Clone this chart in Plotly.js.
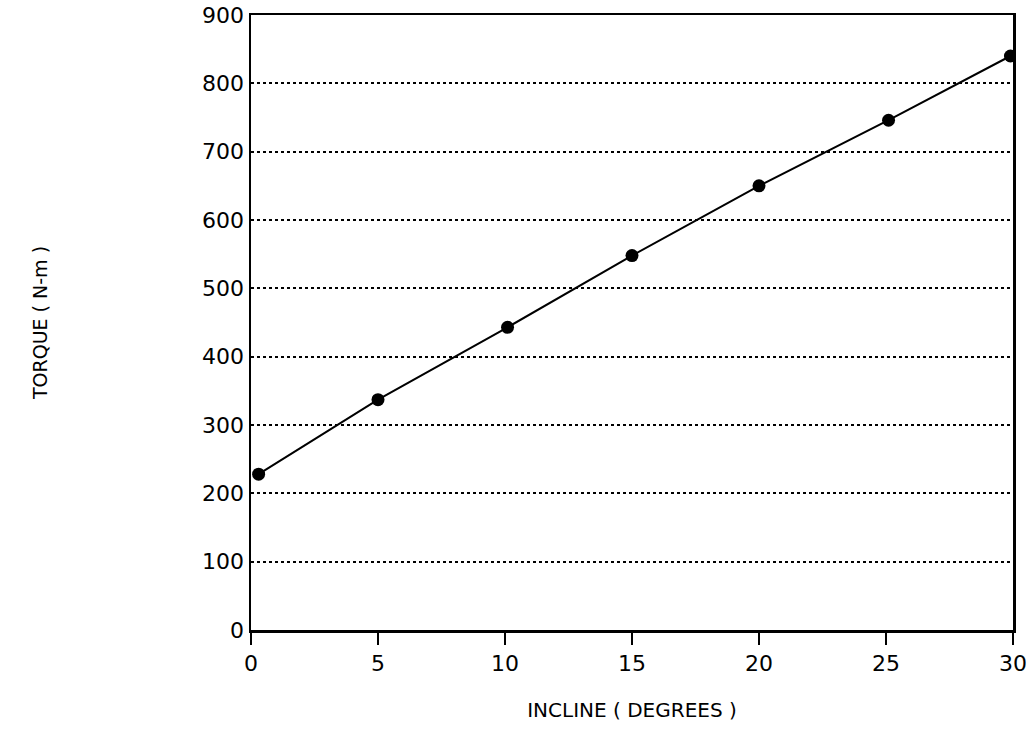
<!DOCTYPE html>
<html>
<head>
<meta charset="utf-8">
<script src="https://cdn.plot.ly/plotly-3.0.1.min.js"></script>
<style>html,body{margin:0;padding:0;background:#fff;}#chart{width:1030px;height:749px;}</style>
</head>
<body>
<div id="chart"></div>
<script>
const incline = [0.3, 5, 10.1, 15, 20, 25.1, 29.9];
const torque = [228, 337, 443, 548, 650, 746, 840];
const xTicks = [0, 5, 10, 15, 20, 25, 30];
const yTicks = [0, 100, 200, 300, 400, 500, 600, 700, 800, 900];

const font = {family: 'DejaVu Sans', color: '#000'};

Plotly.newPlot('chart', [{
  x: incline, y: torque, type: 'scatter', mode: 'lines+markers',
  line: {color: '#000', width: 2},
  marker: {color: '#000', size: 13, symbol: 'circle'},
  showlegend: false
}], {
  width: 1030, height: 749,
  margin: {l: 251, r: 17, t: 15, b: 119},
  paper_bgcolor: '#fff', plot_bgcolor: '#fff',
  xaxis: {
    range: [0, 30], tickvals: xTicks, ticktext: xTicks.map(String),
    showgrid: false, zeroline: false,
    showline: true, linecolor: '#000', linewidth: 2.5, mirror: true,
    ticks: 'outside', ticklen: 12, tickcolor: '#000', tickwidth: 2,
    tickfont: Object.assign({size: 22}, font),
    title: {text: 'INCLINE ( DEGREES )', font: Object.assign({size: 20}, font), standoff: 28}
  },
  yaxis: {
    range: [0, 900], tickvals: yTicks, ticktext: yTicks.map(String),
    showgrid: true, gridcolor: '#000', griddash: 'dot', gridwidth: 2,
    zeroline: false,
    showline: true, linecolor: '#000', linewidth: 2.5, mirror: true,
    ticks: '', tickfont: Object.assign({size: 22}, font),
    title: {text: 'TORQUE ( N-m )', font: Object.assign({size: 19}, font), standoff: 150}
  }
}, {displayModeBar: false, staticPlot: true});
</script>
</body>
</html>
